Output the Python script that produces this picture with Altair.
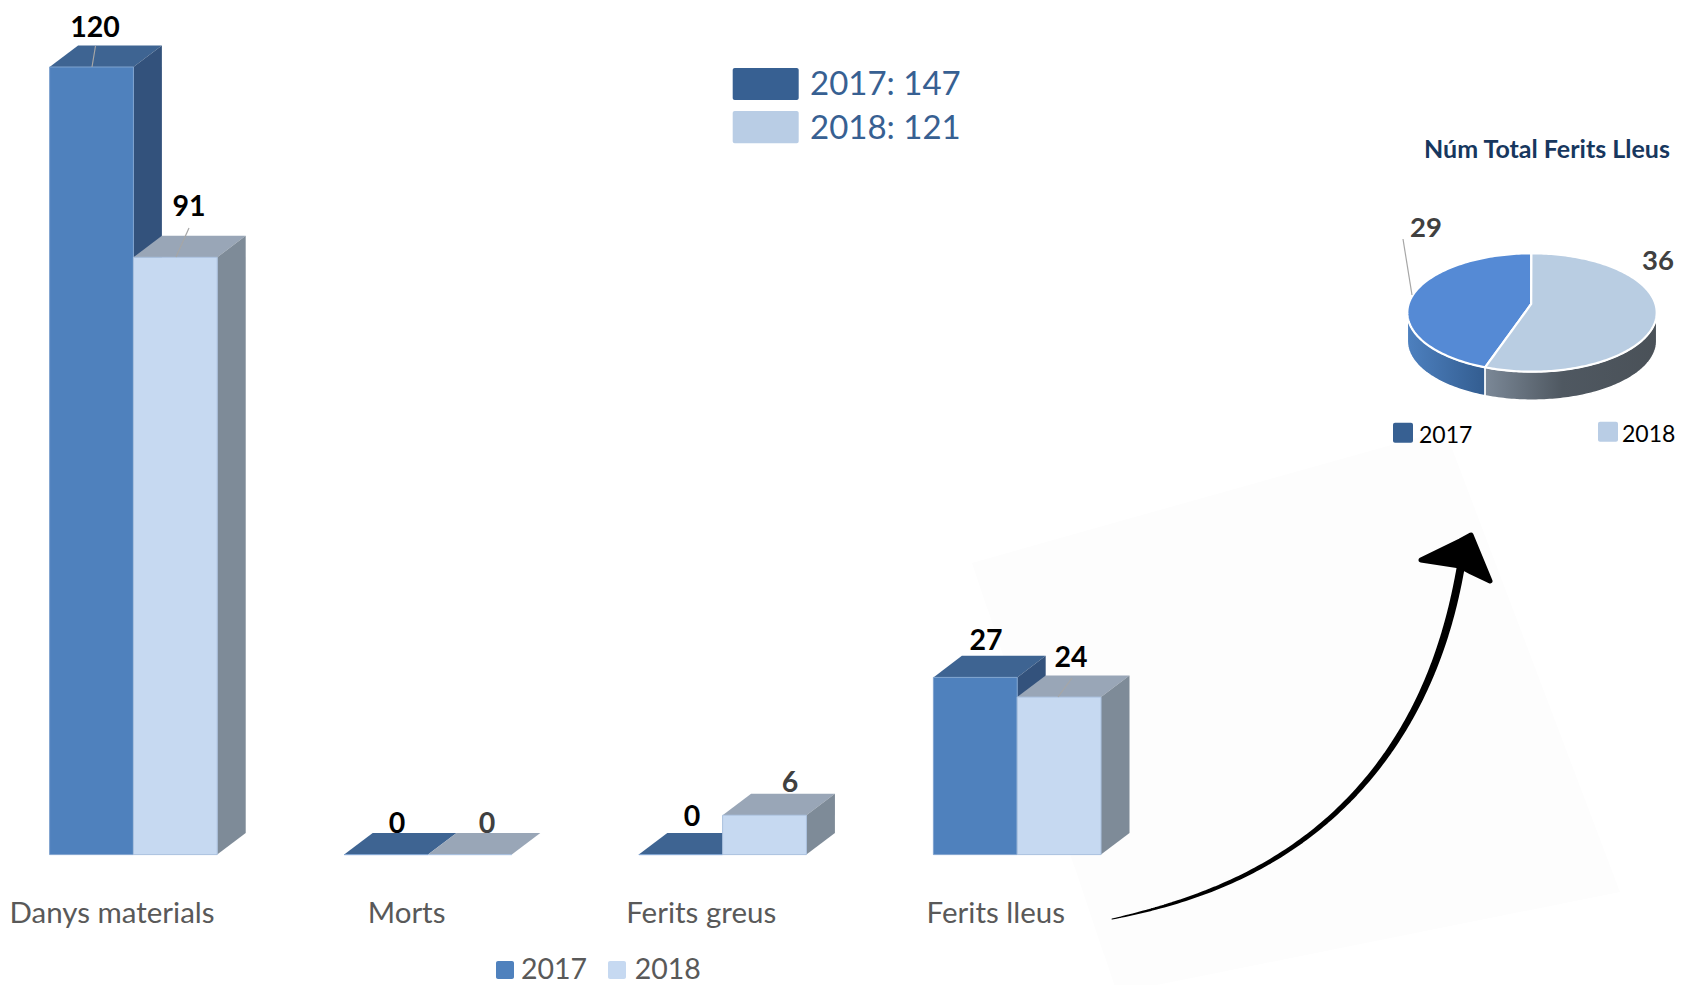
import altair as alt
import numpy as np
import pandas as pd

# ---------- chart values ----------
categories = ["Danys materials", "Morts", "Ferits greus", "Ferits lleus"]
values_2017 = [120, 0, 0, 27]
values_2018 = [91, 0, 6, 24]
pie_series = ["2017", "2018"]
pie_values = [29, 36]
totals = {"2017": 147, "2018": 121}
pie_title = "Núm Total Ferits Lleus"

# ---------- layout / style ----------
W, H = 1668, 977
FONT = "Lato"
C17 = {"front": "#4f81bd", "top": "#3e6492", "side": "#33527c", "edge": "#7fa3cf"}
C18 = {"front": "#c6d9f1", "top": "#99a6b7", "side": "#7e8b98", "edge": "#a9c0de"}
BAR_W = 0.2845       # in category units
DEPTH_X = 0.0967     # in category units
DEPTH_Y = 3.28       # in value units

xb = alt.Scale(domain=[0, 4], range=[41.6, 41.6 + 294.6 * 4], nice=False, zero=False)
yb = alt.Scale(domain=[0, 120], range=[846.6, 59], nice=False, zero=False)
xp = alt.Scale(domain=[8, 8 + W], range=[0, W], nice=False, zero=False)
yp = alt.Scale(domain=[8, 8 + H], range=[0, H], nice=False, zero=False)


def X(f):  return alt.X(f, type="quantitative", scale=xb, axis=None, title=None)
def Y(f):  return alt.Y(f, type="quantitative", scale=yb, axis=None, title=None)
def PX(f): return alt.X(f, type="quantitative", scale=xp, axis=None, title=None)
def PY(f): return alt.Y(f, type="quantitative", scale=yp, axis=None, title=None)


def series_layers(vals, offset, c):
    left = [i + offset for i in range(len(vals))]
    right = [l + BAR_W for l in left]
    front = pd.DataFrame({"l": left, "r": right, "v": vals, "b": [0] * len(vals)})
    top_rows, side_rows = [], []
    for i, v in enumerate(vals):
        top_rows.append({"c": i, "y": v, "x": left[i], "x2": right[i]})
        top_rows.append({"c": i, "y": v + DEPTH_Y, "x": left[i] + DEPTH_X, "x2": right[i] + DEPTH_X})
        side_rows.append({"c": i, "x": right[i], "y": v, "y2": 0})
        side_rows.append({"c": i, "x": right[i] + DEPTH_X, "y": v + DEPTH_Y, "y2": DEPTH_Y})
    top = alt.Chart(pd.DataFrame(top_rows)).mark_area(orient="horizontal", color=c["top"]).encode(
        y=Y("y"), x=X("x"), x2="x2", detail="c:N")
    side = alt.Chart(pd.DataFrame(side_rows)).mark_area(color=c["side"]).encode(
        x=X("x"), y=Y("y"), y2="y2", detail="c:N")
    bar = alt.Chart(front).mark_rect(color=c["front"], stroke=c["edge"], strokeWidth=1).encode(
        x=X("l"), x2="r", y=Y("v"), y2="b")
    return [top, side, bar]


bars = alt.layer(*series_layers(values_2017, 0, C17), *series_layers(values_2018, BAR_W, C18))

# ---------- pie geometry (tilted disc) ----------
PCX, PCY, RX, RY, WALL = 1532.0, 312.5, 124.7, 59.2, 28.5
APEX = (1531.2, 304.0)
split = np.radians(360 * pie_values[1] / sum(pie_values) + 2.7)
split_x = PCX + RX * np.sin(split)
split_y = PCY - RY * np.cos(split)


def e_top(x):
    return PCY - RY * np.sqrt(np.clip(1 - ((x - PCX) / RX) ** 2, 0, 1))


def e_bot(x):
    return PCY + RY * np.sqrt(np.clip(1 - ((x - PCX) / RX) ** 2, 0, 1))


def cos_grid(a, b, n):
    # sample evenly by angle along the ellipse so the ends stay round
    ta = np.arcsin(np.clip((a - PCX) / RX, -1, 1))
    tb = np.arcsin(np.clip((b - PCX) / RX, -1, 1))
    return PCX + RX * np.sin(np.linspace(ta, tb, n))


# 2018 slice
xa = cos_grid(split_x, APEX[0], 20)
xb2 = cos_grid(APEX[0] + 0.2, PCX + RX, 80)
t = (xa - split_x) / (APEX[0] - split_x)
s18 = pd.DataFrame({
    "x": np.r_[xa, xb2],
    "y": np.r_[split_y + t * (APEX[1] - split_y), e_top(xb2)],
    "y2": np.r_[e_bot(xa), e_bot(xb2)],
})
# 2017 slice
xc = cos_grid(PCX - RX, split_x, 60)
xd = cos_grid(split_x + 0.1, APEX[0], 20)
t = (xd - split_x) / (APEX[0] - split_x)
s17 = pd.DataFrame({
    "x": np.r_[xc, xd],
    "y": np.r_[e_top(xc), e_top(xd)],
    "y2": np.r_[e_bot(xc), split_y + t * (APEX[1] - split_y)],
})
xw17 = cos_grid(PCX - RX, split_x, 50)
xw18 = cos_grid(split_x, PCX + RX, 90)
w17 = pd.DataFrame({"x": xw17, "y": e_bot(xw17), "y2": e_bot(xw17) + WALL})
w18 = pd.DataFrame({"x": xw18, "y": e_bot(xw18), "y2": e_bot(xw18) + WALL})


def grad(stops):
    return alt.LinearGradient(
        gradient="linear", x1=0, x2=1, y1=0, y2=0,
        stops=[alt.GradientStop(color=c, offset=o) for o, c in stops])


def area(df, **kw):
    return alt.Chart(df).mark_area(**kw).encode(x=PX("x"), y=PY("y"), y2="y2")


pie = [
    area(w17, color=grad([(0, "#4d80bf"), (1, "#335d90")]), stroke="white", strokeWidth=1.5),
    area(w18, color=grad([(0, "#7b8897"), (0.45, "#4f5861"), (1, "#4a5158")]), stroke="white", strokeWidth=1.5),
    area(s17, color="#558ad5", stroke="white", strokeWidth=2.2),
    area(s18, color="#b9cde2", stroke="white", strokeWidth=2.2),
]

# ---------- pale sheet and arrow behind / above the bars ----------
sheet = area(pd.DataFrame({
    "x": [972, 1117, 1445, 1620],
    "y": [563, 522, 430, 892],
    "y2": [563, 993, 927, 892],
}), color="#fdfdfd")

arrow_x = [1112, 1143, 1183, 1217, 1250, 1277, 1300, 1325, 1348, 1370, 1390, 1410, 1427, 1440, 1450, 1455, 1458, 1461]
arrow_y = [919, 912, 900, 888, 872, 857, 842, 823, 800, 777, 750, 717, 683, 647, 617, 600, 580, 565]
arrow_w = [1, 2.4, 3.4, 3.8, 4.2, 4.6, 5, 5, 5.2, 5.6, 6, 6.5, 7, 7.5, 7.8, 8, 8, 8]

# The stroke is one smooth brush curve: fit the read points by arc length.
_ax, _ay, _aw = (np.array(v, float) for v in (arrow_x, arrow_y, arrow_w))
_s = np.r_[0, np.cumsum(np.hypot(np.diff(_ax), np.diff(_ay)))]
_s = _s / _s[-1]
_u = np.linspace(0, 1, 120)
arrow_df = pd.DataFrame({
    "x": np.polyval(np.polyfit(_s, _ax, 5), _u),
    "y": np.polyval(np.polyfit(_s, _ay, 5), _u),
    "w": np.clip(np.polyval(np.polyfit(_s, _aw, 4), _u), 1, 8),
    "o": np.arange(len(_u)),
})
arrow_line = alt.Chart(arrow_df).mark_trail(color="black").encode(
    x=PX("x"), y=PY("y"), order="o:Q", size=alt.Size("w:Q", scale=None, legend=None))
arrow_head = alt.Chart(pd.DataFrame({
    "x": [1421, 1460, 1471, 1490],
    "y": [560, 541, 535, 581],
    "y2": [560, 566, 572, 581],
})).mark_area(color="black", stroke="black", strokeWidth=5, strokeJoin="round").encode(
    x=PX("x"), y=PY("y"), y2="y2")

# ---------- leader lines ----------
leaders = alt.Chart(pd.DataFrame({
    "x": [92, 176, 1058, 1403],
    "y": [67, 257, 697, 239],
    "x2": [95.5, 189, 1072, 1412],
    "y2": [46, 228, 678, 295],
})).mark_rule(color="#a6a6a6", strokeWidth=1.2).encode(x=PX("x"), x2="x2", y=PY("y"), y2="y2")

# ---------- swatches ----------
swatches = alt.Chart(pd.DataFrame({
    "x": [732.7, 732.7, 496, 608, 1393, 1598],
    "x2": [798.7, 798.7, 514, 626, 1413, 1618],
    "y": [68, 111, 961, 961, 422.7, 421.7],
    "y2": [100, 143.3, 979, 979, 442.7, 441.7],
    "c": ["#376092", "#b9cde5", "#4f81bd", "#c6d9f1", "#376092", "#b9cde5"],
})).mark_rect(cornerRadius=2).encode(
    x=PX("x"), x2="x2", y=PY("y"), y2="y2", color=alt.Color("c:N", scale=None, legend=None))


# ---------- text ----------
def texts(rows, bold, align="center"):
    df = pd.DataFrame(rows, columns=["t", "x", "y", "s", "c"])
    return alt.Chart(df).mark_text(
        font=FONT, fontWeight="bold" if bold else "normal", align=align, baseline="middle"
    ).encode(
        x=PX("x"), y=PY("y"), text="t:N",
        size=alt.Size("s:Q", scale=None, legend=None),
        color=alt.Color("c:N", scale=None, legend=None),
    )


lab_x = [95, 189, 397, 487, 692, 790, 986, 1071]
lab_y = [27.5, 207, 824, 824, 817, 783, 641, 658]
lab_v = [values_2017[0], values_2018[0], values_2017[1], values_2018[1],
         values_2017[2], values_2018[2], values_2017[3], values_2018[3]]
lab_c = ["#000000", "#000000", "#000000", "#404040", "#000000", "#404040", "#000000", "#000000"]
value_labels = texts([[str(v), x, y, 28.5, c] for v, x, y, c in zip(lab_v, lab_x, lab_y, lab_c)], True)

cat_labels = texts([[c, 112 + 294.6 * i, 914, 29.5, "#595959"] for i, c in enumerate(categories)], False)

left_text = texts([
    ["2017", 521, 970, 28.5, "#595959"],
    ["2018", 634.7, 970, 28.5, "#595959"],
    [f"2017: {totals['2017']}", 810, 85, 33, "#376092"],
    [f"2018: {totals['2018']}", 810, 129, 33, "#376092"],
    ["2017", 1419, 436, 23, "#000000"],
    ["2018", 1622, 434.5, 23, "#000000"],
], False, align="left")

pie_text = texts([
    [pie_title, 1547, 150, 25, "#17375e"],
    [str(pie_values[0]), 1426, 228.7, 27.5, "#404040"],
    [str(pie_values[1]), 1658, 262, 27.5, "#404040"],
], True)

back = alt.layer(sheet)
front = alt.layer(*pie, leaders, arrow_line, arrow_head, swatches,
                  value_labels, cat_labels, left_text, pie_text)

chart = (
    alt.layer(back, bars, front)
    .resolve_scale(x="independent", y="independent")
    .properties(width=W, height=H, padding=0,
                autosize=alt.AutoSizeParams(type="none", contains="padding"),
                background="white")
    .configure_view(stroke=None)
)
chart.save("out.html", embed_options={"renderer": "svg", "actions": False})
